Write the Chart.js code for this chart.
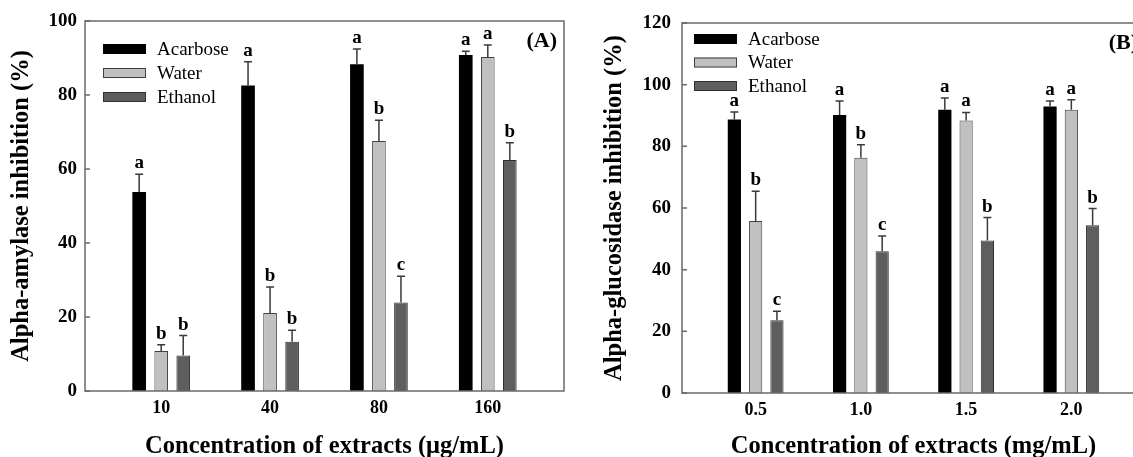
<!DOCTYPE html>
<html><head><meta charset="utf-8">
<script src="https://cdn.jsdelivr.net/npm/chart.js@4"></script>
<style>
html,body{margin:0;padding:0;background:#fff;overflow:hidden;width:1133px;height:457px;}
#wa{position:absolute;left:0;top:0;width:580px;height:457px;}
#wb{position:absolute;left:580px;top:0;width:590px;height:457px;}
</style></head><body>
<div id="wa"><canvas id="ca"></canvas></div>
<div id="wb"><canvas id="cb"></canvas></div>
<script>
const seriesNames = ['Acarbose', 'Water', 'Ethanol'];
const seriesColors = ['#000000', '#c0c0c0', '#5e5e5e'];
const seriesBorders = ['#000000', '#404040', '#303030'];

// Panel A
const catsA = ['10', '40', '80', '160'];
const acarboseA = [53.8, 82.6, 88.3, 90.8];
const waterA = [10.8, 21.1, 67.6, 90.3];
const ethanolA = [9.6, 13.3, 23.9, 62.4];
const errAcarboseA = [4.8, 6.4, 4.1, 1.0];
const errWaterA = [1.7, 7.0, 5.6, 3.2];
const errEthanolA = [5.4, 3.1, 7.1, 4.7];
const letAcarboseA = ['a', 'a', 'a', 'a'];
const letWaterA = ['b', 'b', 'b', 'a'];
const letEthanolA = ['b', 'b', 'c', 'b'];

// Panel B
const catsB = ['0.5', '1.0', '1.5', '2.0'];
const acarboseB = [88.7, 90.2, 91.9, 92.9];
const waterB = [55.8, 76.3, 88.4, 91.9];
const ethanolB = [23.6, 46.0, 49.5, 54.4];
const errAcarboseB = [2.4, 4.5, 3.8, 1.8];
const errWaterB = [9.6, 4.2, 2.6, 3.2];
const errEthanolB = [2.9, 4.9, 7.4, 5.4];
const letAcarboseB = ['a', 'a', 'a', 'a'];
const letWaterB = ['b', 'b', 'a', 'a'];
const letEthanolB = ['c', 'c', 'b', 'b'];

const FAM = '"Liberation Serif", "Times New Roman", serif';
const AXIS = '#6a6a6a';

const decor = {
  id: 'decor',
  afterDatasetsDraw(chart, args, o) {
    const ctx = chart.ctx, a = chart.chartArea, ys = chart.scales.y;
    ctx.save();
    chart.data.datasets.forEach((ds, di) => {
      const meta = chart.getDatasetMeta(di);
      meta.data.forEach((bar, i) => {
        const v = ds.data[i].y, e = ds.err[i];
        const yTop = ys.getPixelForValue(v + e), yBar = ys.getPixelForValue(v);
        ctx.strokeStyle = '#3a3a3a'; ctx.lineWidth = 1.5;
        ctx.beginPath();
        ctx.moveTo(bar.x, yBar); ctx.lineTo(bar.x, yTop);
        ctx.moveTo(bar.x - 4, yTop); ctx.lineTo(bar.x + 4, yTop);
        ctx.stroke();
        ctx.fillStyle = '#000';
        ctx.font = 'bold 19px ' + FAM;
        ctx.textAlign = 'center'; ctx.textBaseline = 'alphabetic';
        ctx.fillText(ds.letters[i], bar.x, yTop - 6);
      });
    });
    // frame
    ctx.strokeStyle = AXIS; ctx.lineWidth = 1.5;
    ctx.strokeRect(a.left, a.top, a.right - a.left, a.bottom - a.top);
    // inward ticks
    ctx.beginPath();
    ys.ticks.forEach(t => {
      const y = ys.getPixelForValue(t.value);
      ctx.moveTo(a.left, y); ctx.lineTo(a.left + 5, y);
    });
    ctx.stroke();
    // legend
    chart.data.datasets.forEach((ds, di) => {
      const bx = a.left + o.legX, cy = a.top + o.legY + di * o.legStep;
      ctx.fillStyle = ds.backgroundColor;
      ctx.fillRect(bx, cy - 5, 43, 10);
      ctx.strokeStyle = ds.borderColor; ctx.lineWidth = 1;
      ctx.strokeRect(bx + 0.5, cy - 4.5, 42, 9);
      ctx.fillStyle = '#000';
      ctx.font = '19px ' + FAM;
      ctx.textAlign = 'left'; ctx.textBaseline = 'middle';
      ctx.fillText(ds.label, bx + 54, cy + 1);
    });
    // panel label
    ctx.font = 'bold 22px ' + FAM;
    ctx.textAlign = 'right'; ctx.textBaseline = 'middle';
    ctx.fillStyle = '#000';
    ctx.fillText(o.panel, a.right - 7, a.top + 20);
    ctx.restore();
  }
};

function makeDatasets(vals, errs, lets) {
  return vals.map((arr, k) => ({
    label: seriesNames[k],
    data: arr.map((y, i) => ({ x: i, y: y })),
    err: errs[k],
    letters: lets[k],
    backgroundColor: seriesColors[k],
    borderColor: seriesBorders[k],
    borderWidth: k === 0 ? 0 : 1,
    categoryPercentage: 0.607,
    barPercentage: 0.62
  }));
}

function makeChart(id, cfg) {
  return new Chart(document.getElementById(id), {
    type: 'bar',
    data: { datasets: makeDatasets(cfg.vals, cfg.errs, cfg.lets) },
    options: {
      responsive: true, maintainAspectRatio: false, animation: false,
      layout: { padding: { left: 0, right: cfg.padR, top: cfg.padT, bottom: 0 } },
      plugins: {
        legend: { display: false }, tooltip: { enabled: false },
        decor: { legX: cfg.legX, legY: cfg.legY, legStep: cfg.legStep, panel: cfg.panel }
      },
      scales: {
        x: {
          type: 'linear', min: -0.7, max: 3.7, offset: false,
          afterBuildTicks: s => { s.ticks = cfg.cats.map((c, i) => ({ value: i })); },
          afterFit: s => { s.height = cfg.xH; },
          ticks: { callback: v => cfg.cats[v], autoSkip: false, maxRotation: 0, padding: 7,
                   color: '#000', font: { family: FAM, size: 18, weight: 'bold' } },
          grid: { display: false, drawTicks: false, offset: false },
          border: { display: false },
          title: { display: true, text: cfg.xTitle, color: '#000', padding: { top: 0, bottom: 0 },
                   font: { family: FAM, size: 24.5, weight: 'bold', lineHeight: 0.88 } }
        },
        y: {
          min: 0, max: cfg.yMax,
          afterFit: s => { s.width = cfg.yW; },
          ticks: { stepSize: 20, padding: cfg.yPad, color: '#000',
                   font: { family: FAM, size: 19, weight: 'bold' } },
          grid: { display: false, drawTicks: false },
          border: { display: false },
          title: { display: true, text: cfg.yTitle, color: '#000', padding: { top: cfg.yTitlePad, bottom: 0 },
                   font: { family: FAM, size: 24.5, weight: 'bold', lineHeight: 1 } }
        }
      }
    },
    plugins: [decor]
  });
}

makeChart('ca', {
  cats: catsA,
  vals: [acarboseA, waterA, ethanolA],
  errs: [errAcarboseA, errWaterA, errEthanolA],
  lets: [letAcarboseA, letWaterA, letEthanolA],
  yMax: 100, padR: 16, padT: 21, xH: 66, yW: 85, yPad: 8, yTitlePad: 9.75,
  legX: 18, legY: 28, legStep: 24, panel: '(A)',
  xTitle: 'Concentration of extracts (\u03bcg/mL)',
  yTitle: 'Alpha-amylase inhibition (%)'
});

makeChart('cb', {
  cats: catsB,
  vals: [acarboseB, waterB, ethanolB],
  errs: [errAcarboseB, errWaterB, errEthanolB],
  lets: [letAcarboseB, letWaterB, letEthanolB],
  yMax: 120, padR: 25, padT: 23, xH: 64, yW: 102, yPad: 11, yTitlePad: 22.75,
  legX: 12, legY: 16, legStep: 23.5, panel: '(B)',
  xTitle: 'Concentration of extracts (mg/mL)',
  yTitle: 'Alpha-glucosidase inhibition (%)'
});
</script>
</body></html>
